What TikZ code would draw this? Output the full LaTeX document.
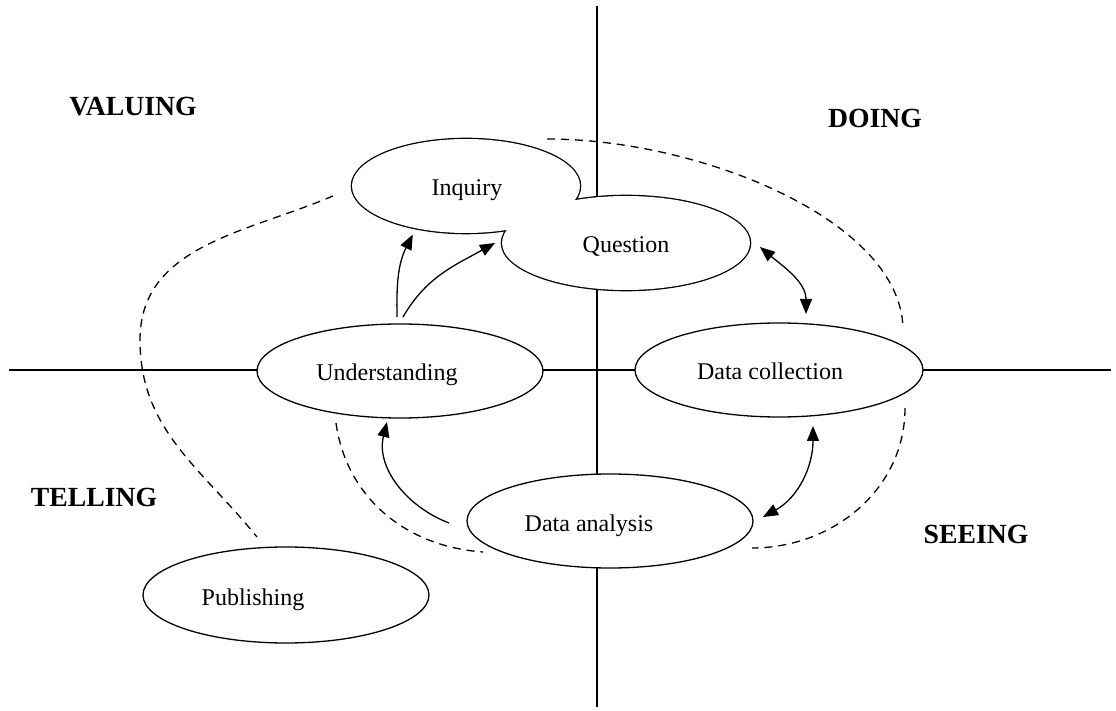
\documentclass[tikz,border=0pt]{standalone}
\usepackage{fontspec}
\setmainfont{Liberation Serif}
\usetikzlibrary{shapes.geometric,arrows.meta}
\begin{document}
\begin{tikzpicture}[x=1pt,y=1pt,
  ovalnode/.style={ellipse, draw, fill=white, line width=1.3pt, inner sep=0pt, outer sep=0pt},
  ovalwide/.style={ovalnode, line width=2.6pt},
  ovaltext/.style={anchor=base, inner sep=0pt, font=\fontsize{24}{28}\selectfont},
  quadlabel/.style={inner sep=0pt, font=\bfseries\fontsize{27.7}{32}\selectfont},
  axisline/.style={line width=1.3pt},
  flowarrow/.style={line width=1.3pt, -{Triangle[length=15pt,width=12pt]}},
  twowayarrow/.style={line width=1.3pt, {Triangle[length=15pt,width=12pt]}-{Triangle[length=15pt,width=12pt]}},
  dashloop/.style={line width=1.3pt, dash pattern=on 8pt off 6pt}
]
\useasboundingbox (0,0) rectangle (1116,710);
\fill[white] (0,0) rectangle (1116,710);

% the two axes splitting the four quadrants
\coordinate (vtop) at (597,704);
\coordinate (vbot) at (597,3);
\coordinate (hleft) at (9,340);
\coordinate (hright) at (1111,340);
\draw[axisline] (vtop) -- (vbot);
\draw[axisline] (hleft) -- (hright);

% Inquiry and Question overlap: thick strokes, then white interiors,
% so only the outline of their union remains
\node[ovalwide, minimum width=228pt, minimum height=94pt] (inq) at (466,524) {};
\node[ovalwide, minimum width=248pt, minimum height=94pt] (q) at (626,467) {};
\fill[white] (inq.center) ellipse [x radius=114pt, y radius=47pt];
\fill[white] (q.center) ellipse [x radius=124pt, y radius=47pt];

% remaining stages
\node[ovalnode, minimum width=286pt, minimum height=94pt] (und) at (400,339) {};
\node[ovalnode, minimum width=288pt, minimum height=94pt] (dc) at (779,340) {};
\node[ovalnode, minimum width=286pt, minimum height=94pt] (da) at (610,189) {};
\node[ovalnode, minimum width=286pt, minimum height=96pt] (pub) at (286,115) {};

% stage names
\node[ovaltext] (inq-t) at (467,514) {Inquiry};
\node[ovaltext] (q-t) at (626,457) {Question};
\node[ovaltext] (und-t) at (387,329) {Understanding};
\node[ovaltext] (dc-t) at (770,330) {Data collection};
\node[ovaltext] (da-t) at (589,179) {Data analysis};
\node[ovaltext] (pub-t) at (253,105) {Publishing};

% quadrant names
\node[quadlabel] (valuing) at (133,603) {VALUING};
\node[quadlabel] (doing) at (875,592) {DOING};
\node[quadlabel] (telling) at (94,213) {TELLING};
\node[quadlabel] (seeing) at (976,176) {SEEING};

% cycle arrows
\draw[flowarrow] ([xshift=-3pt,yshift=7pt]und.north) to[out=91,in=243] ([yshift=-7pt]inq.218);
\draw[flowarrow] ([xshift=3pt,yshift=7pt]und.north) to[out=60,in=209] ([xshift=-7pt]q.west);
\draw[flowarrow] ([xshift=-18pt,yshift=-2pt]da.west) to[out=159,in=256] ([xshift=-13pt,yshift=-4pt]und.south);
\draw[twowayarrow] ([xshift=10pt,yshift=-4pt]q.east) to[out=-40,in=90] ([xshift=27pt,yshift=9pt]dc.north);
\draw[twowayarrow] ([xshift=34pt,yshift=-9pt]dc.south) to[out=-90,in=29] ([xshift=10pt,yshift=4pt]da.east);

% dashed groupings
\coordinate (bendL) at (140,370);
\draw[dashloop] ([xshift=-19pt,yshift=-10pt]inq.west) to[out=203,in=90] (bendL)
  to[out=-90,in=129] ([xshift=-29pt,yshift=10pt]pub.north);
\draw[dashloop] ([xshift=-64pt,yshift=-5pt]und.south) to[out=-82,in=176] ([xshift=-127pt,yshift=16pt]da.south);
\draw[dashloop] ([xshift=81pt]inq.north) .. controls (700,571) and (900,490) .. ([xshift=124pt,yshift=-5pt]dc.north);
\draw[dashloop] ([xshift=126pt,yshift=9pt]dc.south) to[out=-90,in=0] ([xshift=-1pt,yshift=-27pt]da.east);
\end{tikzpicture}
\end{document}
